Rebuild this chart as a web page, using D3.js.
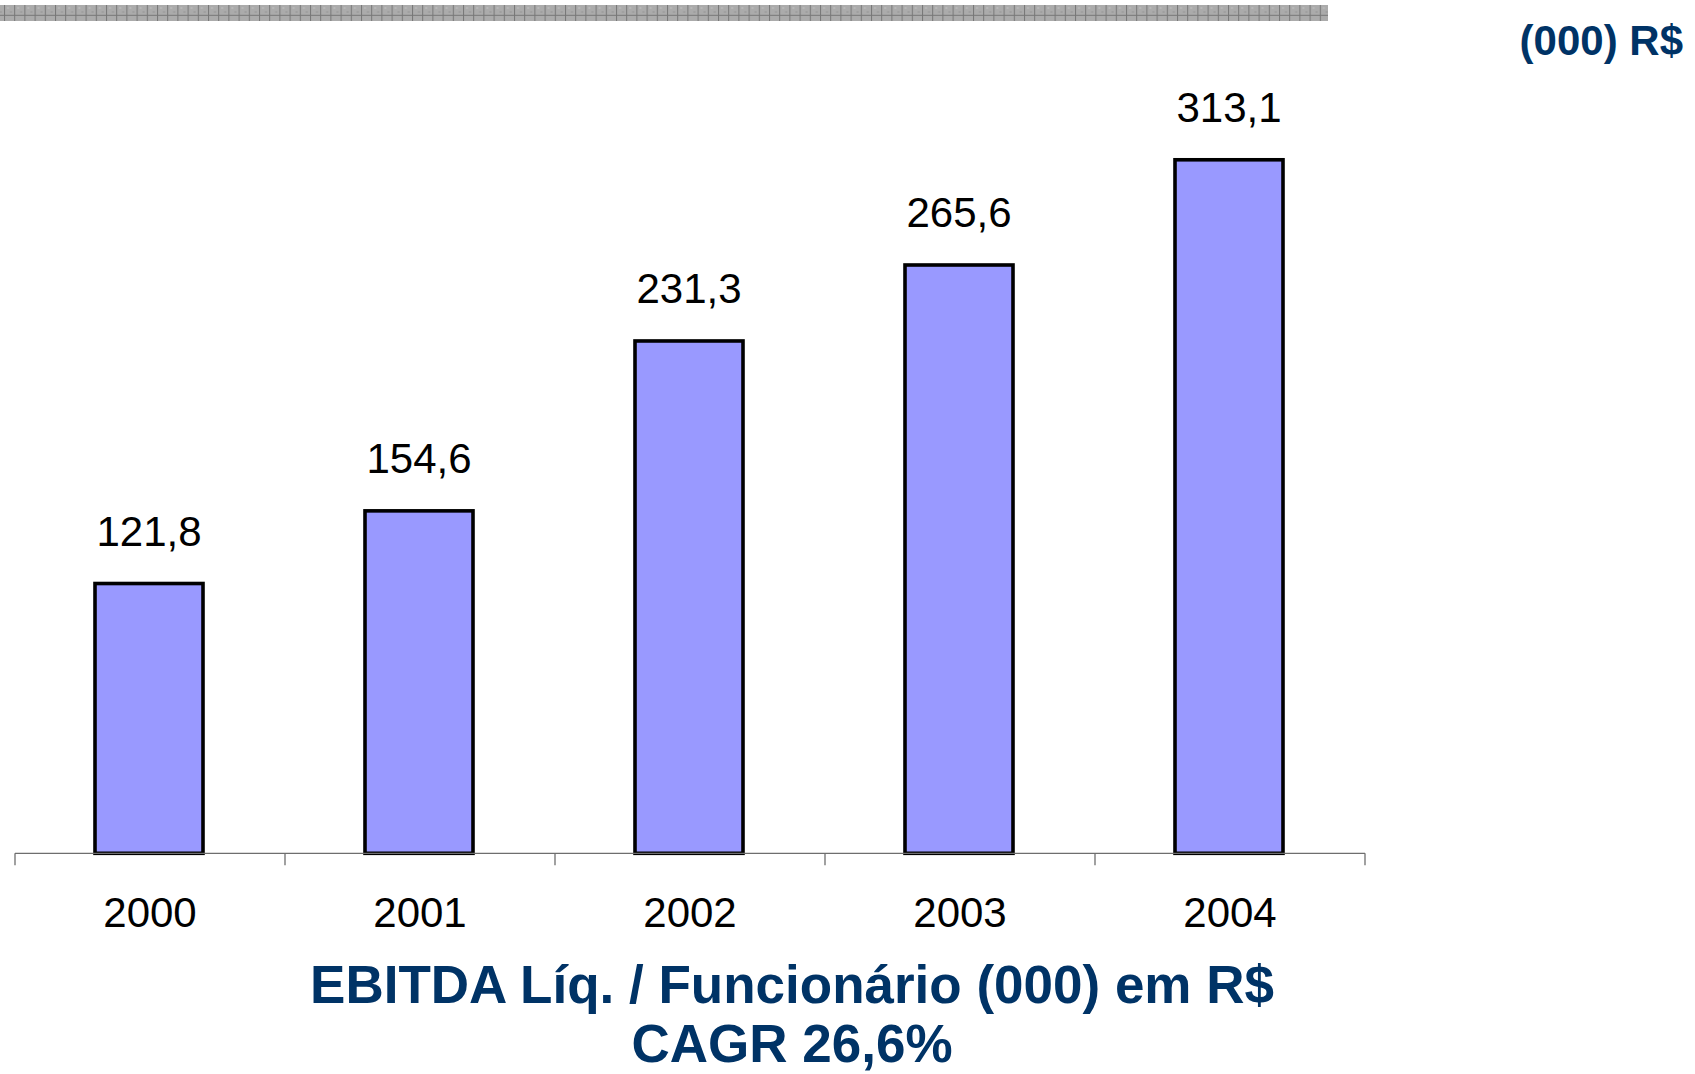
<!DOCTYPE html>
<html>
<head>
<meta charset="utf-8">
<script src="https://cdn.jsdelivr.net/npm/d3@7"></script>
<style>
  html, body { margin: 0; padding: 0; background: #fff; }
  svg { display: block; }
  text { font-family: Arial, "Liberation Sans", sans-serif; }
</style>
</head>
<body>
<svg id="chart" width="1695" height="1074"></svg>
<script>
const categories = ["2000", "2001", "2002", "2003", "2004"];
const values = [121.8, 154.6, 231.3, 265.6, 313.1];
const valueLabels = ["121,8", "154,6", "231,3", "265,6", "313,1"];
const titleLines = ["EBITDA Líq. / Funcionário (000) em R$", "CAGR 26,6%"];
const unitLabel = "(000) R$";

const svg = d3.select("#chart");

// Decorative patterned band at top
const defs = svg.append("defs");
const pat = defs.append("pattern")
  .attr("id", "band").attr("patternUnits", "userSpaceOnUse")
  .attr("x", 4).attr("y", 5).attr("width", 10.2).attr("height", 16);
pat.append("rect").attr("width", 10.2).attr("height", 16).attr("fill", "#ababab");
pat.append("rect").attr("x", 3).attr("y", 2).attr("width", 2).attr("height", 2).attr("fill", "#b8b8b8");
pat.append("rect").attr("x", 6).attr("y", 6).attr("width", 2).attr("height", 2).attr("fill", "#9f9f9f");
pat.append("line").attr("x1", 0.5).attr("x2", 0.5).attr("y1", 0).attr("y2", 16)
  .attr("stroke", "#777").attr("stroke-width", 1);
pat.append("line").attr("x1", 0).attr("x2", 10.2).attr("y1", 10.3).attr("y2", 10.3)
  .attr("stroke", "#777").attr("stroke-width", 1);
svg.append("rect").attr("x", 0).attr("y", 5).attr("width", 1328).attr("height", 16)
  .attr("fill", "url(#band)");

// Scales
const baseY = 853.3;
const x = d3.scaleBand().domain(categories).range([15, 1365]).paddingInner(0.6).paddingOuter(0.3);
const y = d3.scaleLinear().domain([0, 350]).range([baseY, baseY - 350 * 2.215]);

// Bars
svg.append("g").selectAll("rect").data(values).join("rect")
  .attr("x", (d, i) => x(categories[i]) - 1)
  .attr("y", d => y(d))
  .attr("width", x.bandwidth())
  .attr("height", d => y(0) - y(d))
  .attr("fill", "#9999ff")
  .attr("stroke", "#000")
  .attr("stroke-width", 3.6);

// Value labels
svg.append("g").selectAll("text").data(values).join("text")
  .attr("x", (d, i) => x(categories[i]) + x.bandwidth() / 2 - 1)
  .attr("y", d => y(d) - 37.5)
  .attr("text-anchor", "middle")
  .attr("font-size", 42)
  .attr("fill", "#000")
  .text((d, i) => valueLabels[i]);

// X axis: line + boundary ticks
const gap = (x.step() - x.bandwidth()) / 2;
const bounds = categories.map(c => x(c) - gap).concat([x(categories[categories.length - 1]) + x.bandwidth() + gap]);
const axisG = svg.append("g").attr("transform", `translate(0,${baseY})`);
axisG.append("line")
  .attr("x1", bounds[0]).attr("x2", bounds[bounds.length - 1])
  .attr("y1", 0).attr("y2", 0)
  .attr("stroke", "#6e6e6e").attr("stroke-width", 1.3);
axisG.selectAll("line.tick").data(bounds).join("line")
  .attr("class", "tick")
  .attr("x1", d => d).attr("x2", d => d)
  .attr("y1", 0).attr("y2", 12)
  .attr("stroke", "#6e6e6e").attr("stroke-width", 1.3);

// Category labels via d3 axis
const labelAxis = d3.axisBottom(x).tickSize(0).tickPadding(0);
const lg = svg.append("g").attr("transform", `translate(0,${baseY})`).call(labelAxis);
lg.select(".domain").remove();
lg.selectAll("text")
  .attr("font-size", 42)
  .attr("font-family", "Arial, 'Liberation Sans', sans-serif")
  .attr("fill", "#000")
  .attr("dy", null)
  .attr("y", 926.7 - baseY);

// Title lines
svg.append("g").selectAll("text").data(titleLines).join("text")
  .attr("x", 792)
  .attr("y", (d, i) => 1002.7 + i * 59.5)
  .attr("text-anchor", "middle")
  .attr("font-size", 53)
  .attr("font-weight", "bold")
  .attr("fill", "#003366")
  .text(d => d);

// Unit label top-right
svg.append("text")
  .attr("x", 1683).attr("y", 54.5)
  .attr("text-anchor", "end")
  .attr("font-size", 42)
  .attr("font-weight", "bold")
  .attr("fill", "#003366")
  .text(unitLabel);
</script>
</body>
</html>
